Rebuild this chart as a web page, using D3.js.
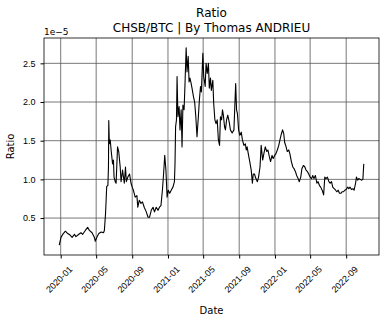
<!DOCTYPE html>
<html>
<head>
    <title>CHSB/BTC Ratio</title>
    <script src="https://d3js.org/d3.v7.min.js"></script>
    <style>
        body { margin: 0; background: #fff; }
        svg { display: block; font-family: "DejaVu Sans", sans-serif; }
        .grid line { stroke: #555; stroke-width: 0.8px; }
        .tick text { font-size: 9px; fill: #000; }
    </style>
</head>
<body>
    <svg></svg>
    <script>
        // Datos (ratio en unidades de 1e-5)
        const dates = [
            "2019-12-27","2020-01-02","2020-01-10","2020-01-17","2020-01-25","2020-02-02","2020-02-09","2020-02-17",
            "2020-02-22","2020-03-03","2020-03-10","2020-03-16","2020-03-25","2020-04-02","2020-04-08","2020-04-17",
            "2020-04-25","2020-04-28","2020-05-03","2020-05-10","2020-05-18","2020-05-26","2020-05-29","2020-06-02",
            "2020-06-04","2020-06-06","2020-06-10","2020-06-12","2020-06-13","2020-06-15","2020-06-18","2020-06-21",
            "2020-06-26","2020-06-29","2020-07-01","2020-07-05","2020-07-08","2020-07-13","2020-07-17","2020-07-22",
            "2020-07-25","2020-07-30","2020-08-05","2020-08-09","2020-08-12","2020-08-17","2020-08-23","2020-08-28",
            "2020-09-01","2020-09-05","2020-09-11","2020-09-17","2020-09-20","2020-09-25","2020-10-01","2020-10-06",
            "2020-10-12","2020-10-19","2020-10-25","2020-10-30","2020-11-05","2020-11-11","2020-11-16","2020-11-22",
            "2020-11-28","2020-12-03","2020-12-08","2020-12-13","2020-12-17","2020-12-21","2020-12-25","2020-12-29",
            "2021-01-02","2021-01-07","2021-01-12","2021-01-18","2021-01-23","2021-01-25","2021-01-27","2021-01-30",
            "2021-02-01","2021-02-04","2021-02-08","2021-02-11","2021-02-15","2021-02-18","2021-02-21","2021-02-25",
            "2021-02-28","2021-03-04","2021-03-07","2021-03-11","2021-03-14","2021-03-17","2021-03-21","2021-03-24",
            "2021-03-29","2021-04-02","2021-04-06","2021-04-10","2021-04-15","2021-04-18","2021-04-22","2021-04-25",
            "2021-04-30","2021-05-03","2021-05-08","2021-05-11","2021-05-15","2021-05-19","2021-05-22","2021-05-26",
            "2021-05-29","2021-06-03","2021-06-06","2021-06-10","2021-06-14","2021-06-18","2021-06-22","2021-06-26",
            "2021-06-29","2021-07-03","2021-07-06","2021-07-09","2021-07-13","2021-07-16","2021-07-20","2021-07-24",
            "2021-07-29","2021-08-02","2021-08-08","2021-08-14","2021-08-17","2021-08-20","2021-08-23","2021-08-26",
            "2021-08-30","2021-09-03","2021-09-08","2021-09-12","2021-09-17","2021-09-22","2021-09-25","2021-09-28",
            "2021-10-03","2021-10-07","2021-10-12","2021-10-16","2021-10-19","2021-10-23","2021-10-28","2021-11-02",
            "2021-11-06","2021-11-11","2021-11-15","2021-11-20","2021-11-24","2021-11-29","2021-12-04","2021-12-08",
            "2021-12-13","2021-12-17","2021-12-22","2021-12-26","2021-12-31","2022-01-04","2022-01-09","2022-01-14",
            "2022-01-18","2022-01-23","2022-01-27","2022-01-31","2022-02-03","2022-02-08","2022-02-12","2022-02-17",
            "2022-02-21","2022-02-26","2022-03-03","2022-03-07","2022-03-12","2022-03-16","2022-03-21","2022-03-25",
            "2022-03-30","2022-04-03","2022-04-08","2022-04-13","2022-04-17","2022-04-22","2022-04-26","2022-05-01",
            "2022-05-06","2022-05-10","2022-05-14","2022-05-19","2022-05-24","2022-05-28","2022-06-02","2022-06-06",
            "2022-06-11","2022-06-16","2022-06-20","2022-06-24","2022-06-29","2022-07-04","2022-07-08","2022-07-13",
            "2022-07-17","2022-07-22","2022-07-27","2022-07-31","2022-08-05","2022-08-09","2022-08-14","2022-08-18",
            "2022-08-23","2022-08-27","2022-09-01","2022-09-06","2022-09-10","2022-09-14","2022-09-19","2022-09-24",
            "2022-09-28","2022-10-03","2022-10-06","2022-10-10","2022-10-14","2022-10-19","2022-10-24","2022-10-28",
            "2022-10-31"
        ];
        const ratio = [
            0.15,0.25,0.30,0.33,0.30,0.28,0.25,0.29,
            0.26,0.29,0.31,0.29,0.34,0.38,0.34,0.31,
            0.25,0.20,0.25,0.30,0.32,0.31,0.34,0.56,
            0.73,0.91,0.92,1.16,1.76,1.46,1.51,1.38,
            1.20,1.25,1.03,0.97,0.95,1.42,1.36,1.16,
            0.97,1.12,0.95,1.16,0.97,1.03,1.07,0.95,
            0.90,0.86,0.77,0.79,0.64,0.73,0.69,0.71,
            0.64,0.58,0.51,0.51,0.60,0.64,0.58,0.64,
            0.60,0.64,0.66,0.86,1.07,1.31,1.12,0.77,
            0.86,0.82,0.86,0.90,0.97,1.20,1.68,1.77,
            2.33,1.81,1.94,1.64,1.90,1.42,1.96,1.90,
            2.22,2.70,2.39,2.59,2.26,2.31,2.24,2.18,
            2.07,2.00,1.81,1.55,1.83,2.02,2.20,2.13,
            2.63,2.33,2.20,2.50,2.37,2.50,2.18,2.31,
            2.15,2.28,1.98,1.77,1.72,1.77,1.51,1.44,
            1.81,1.77,1.90,1.83,1.68,1.64,1.77,1.83,
            1.74,1.64,1.60,1.64,1.94,2.24,1.90,1.85,
            1.64,1.57,1.61,1.51,1.44,1.46,1.38,1.42,
            1.31,1.23,1.12,0.95,1.07,1.07,1.01,0.97,
            1.03,1.16,1.44,1.25,1.33,1.42,1.36,1.38,
            1.29,1.23,1.31,1.27,1.31,1.33,1.38,1.44,
            1.51,1.59,1.64,1.59,1.48,1.42,1.36,1.38,
            1.33,1.23,1.16,1.14,1.10,1.05,1.01,0.97,
            1.03,1.14,1.18,1.16,1.12,1.10,1.07,1.03,
            1.01,1.05,1.01,1.05,0.95,0.97,0.92,0.90,
            0.86,0.80,1.03,1.01,1.03,0.97,0.95,0.97,
            0.90,0.88,0.86,0.84,0.86,0.82,0.82,0.84,
            0.84,0.86,0.87,0.90,0.88,0.90,0.87,0.88,
            0.86,0.95,1.03,0.99,1.01,1.00,0.99,1.00,
            1.20
        ];
        const yTicks = [0.5, 1.0, 1.5, 2.0, 2.5];
        const titleLines = ["Ratio", "CHSB/BTC | By Thomas ANDRIEU"];

        // Configuracion
        const width = 386, height = 322;
        const margin = { top: 38, right: 7, bottom: 67, left: 44 };
        const iw = width - margin.left - margin.right;
        const ih = height - margin.top - margin.bottom;

        const parse = d3.utcParse("%Y-%m-%d");
        const data = dates.map((d, i) => ({ date: parse(d), value: ratio[i] }));

        // Margenes del 5% como matplotlib
        const [x0, x1] = d3.extent(data, d => d.date);
        const xPad = (x1 - x0) * 0.05;
        const [y0, y1] = d3.extent(data, d => d.value);
        const yPad = (y1 - y0) * 0.05;

        const x = d3.scaleUtc()
            .domain([new Date(+x0 - xPad), new Date(+x1 + xPad)])
            .range([0, iw]);
        const y = d3.scaleLinear()
            .domain([y0 - yPad, y1 + yPad])
            .range([ih, 0]);

        const xTicks = d3.utcMonth.range(x.domain()[0], x.domain()[1])
            .filter(d => d.getUTCMonth() % 4 === 0);

        const svg = d3.select("svg")
            .attr("width", width)
            .attr("height", height);

        const g = svg.append("g")
            .attr("transform", `translate(${margin.left},${margin.top})`);

        // Rejilla
        const grid = g.append("g").attr("class", "grid");
        grid.selectAll(".gx")
            .data(xTicks)
            .join("line")
            .attr("x1", d => x(d)).attr("x2", d => x(d))
            .attr("y1", 0).attr("y2", ih);
        grid.selectAll(".gy")
            .data(yTicks)
            .join("line")
            .attr("class", "gy")
            .attr("x1", 0).attr("x2", iw)
            .attr("y1", d => y(d)).attr("y2", d => y(d));

        // Linea
        const line = d3.line()
            .x(d => x(d.date))
            .y(d => y(d.value));

        g.append("path")
            .datum(data)
            .attr("fill", "none")
            .attr("stroke", "#000")
            .attr("stroke-width", 1.1)
            .attr("stroke-linejoin", "round")
            .attr("d", line);

        // Ejes
        const xAxis = g.append("g")
            .attr("transform", `translate(0,${ih})`)
            .call(d3.axisBottom(x)
                .tickValues(xTicks)
                .tickFormat(d3.utcFormat("%Y-%m"))
                .tickSizeOuter(0)
                .tickSize(3.5)
                .tickPadding(3));
        xAxis.select(".domain").remove();
        xAxis.selectAll(".tick text")
            .attr("text-anchor", "middle")
            .attr("dominant-baseline", "central")
            .attr("y", 0)
            .attr("dy", 0)
            .attr("transform", "translate(-2,24.5) rotate(-45)");

        const yAxis = g.append("g")
            .call(d3.axisLeft(y)
                .tickValues(yTicks)
                .tickFormat(d3.format(".1f"))
                .tickSizeOuter(0)
                .tickSize(3.5)
                .tickPadding(5));
        yAxis.select(".domain").remove();

        // Marco
        g.append("rect")
            .attr("width", iw)
            .attr("height", ih)
            .attr("fill", "none")
            .attr("stroke", "#000")
            .attr("stroke-width", 0.8);

        // Textos
        svg.append("text")
            .attr("x", margin.left)
            .attr("y", 35)
            .attr("font-size", 9)
            .text("1e\u22125");

        svg.selectAll(".title")
            .data(titleLines)
            .join("text")
            .attr("class", "title")
            .attr("x", margin.left + iw / 2)
            .attr("y", (d, i) => 17 + i * 15)
            .attr("text-anchor", "middle")
            .attr("font-size", 12)
            .text(d => d);

        svg.append("text")
            .attr("x", margin.left + iw / 2)
            .attr("y", 314)
            .attr("text-anchor", "middle")
            .attr("font-size", 10)
            .text("Date");

        svg.append("text")
            .attr("transform", `translate(14,${margin.top + ih / 2}) rotate(-90)`)
            .attr("text-anchor", "middle")
            .attr("font-size", 10)
            .text("Ratio");
    </script>
</body>
</html>
